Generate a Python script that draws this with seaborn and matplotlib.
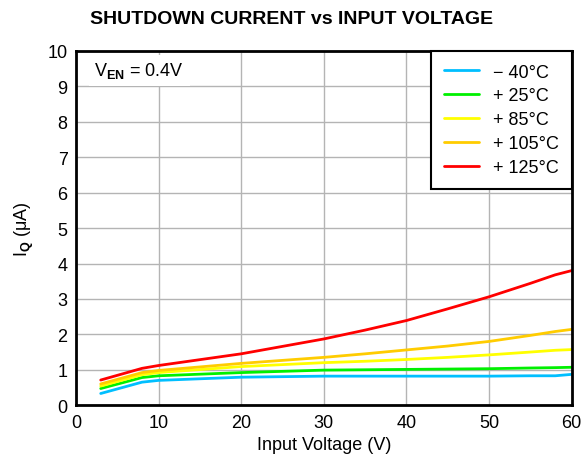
import pandas as pd
import numpy as np
import matplotlib
matplotlib.use('Agg')
import matplotlib.pyplot as plt
import seaborn as sns

# Data
vin = [3, 8, 10, 20, 30, 35, 40, 45, 50, 55, 58, 60]
iq_m40 = [0.33, 0.65, 0.70, 0.79, 0.82, 0.82, 0.82, 0.82, 0.82, 0.83, 0.83, 0.87]
iq_25 = [0.47, 0.78, 0.83, 0.92, 0.99, 1.00, 1.01, 1.02, 1.03, 1.05, 1.06, 1.07]
iq_85 = [0.54, 0.86, 0.92, 1.09, 1.20, 1.24, 1.29, 1.35, 1.42, 1.50, 1.55, 1.57]
iq_105 = [0.60, 0.92, 0.98, 1.18, 1.35, 1.45, 1.56, 1.67, 1.80, 1.97, 2.08, 2.14]
iq_125 = [0.71, 1.04, 1.12, 1.45, 1.87, 2.12, 2.39, 2.72, 3.06, 3.44, 3.68, 3.80]
labels = ['\u2212 40°C', '+ 25°C', '+ 85°C', '+ 105°C', '+ 125°C']
colors = ['#00BFFF', '#00F000', '#FFFF00', '#FFCC00', '#FF0000']

df = pd.DataFrame({
    'vin': vin * 5,
    'iq': iq_m40 + iq_25 + iq_85 + iq_105 + iq_125,
    'temp': [l for l in labels for _ in vin],
})

sns.set_style('white')
plt.rcParams['font.family'] = ['Liberation Sans', 'DejaVu Sans']
plt.rcParams['text.color'] = 'black'
plt.rcParams['axes.labelcolor'] = 'black'
plt.rcParams['xtick.color'] = 'black'
plt.rcParams['ytick.color'] = 'black'
plt.rcParams['mathtext.fontset'] = 'custom'
plt.rcParams['mathtext.rm'] = 'Liberation Sans'
plt.rcParams['mathtext.bf'] = 'Liberation Sans:bold'

fig = plt.figure(figsize=(5.84, 4.6), dpi=100)
ax = fig.add_axes([0.130, 0.117, 0.849, 0.770])

sns.lineplot(data=df, x='vin', y='iq', hue='temp', hue_order=labels,
             palette=colors, linewidth=2, ax=ax)

ax.set_xlim(0, 60)
ax.set_ylim(0, 10)
ax.set_xticks(range(0, 61, 10))
ax.set_yticks(range(0, 11))
ax.grid(True, color='#b4b4b4', linewidth=1)
ax.set_axisbelow(True)
for s in ax.spines.values():
    s.set_color('black')
    s.set_linewidth(2)
ax.tick_params(labelsize=13, length=0, pad=6)

ax.set_xlabel('Input Voltage (V)', fontsize=13, labelpad=4)
ax.set_ylabel(r'I$_{\mathbf{Q}}$' + ' (μA)', fontsize=13, labelpad=8)
fig.suptitle('SHUTDOWN CURRENT vs INPUT VOLTAGE', fontsize=14, fontweight='bold', y=0.975)

ax.text(0.037, 0.945, r'V$_{\mathbf{EN}}$ = 0.4V', transform=ax.transAxes,
        fontsize=13, va='center', ha='left',
        bbox=dict(facecolor='white', edgecolor='none', pad=4))

leg = ax.legend(loc='upper right', fontsize=13, frameon=True, fancybox=False,
                edgecolor='black', borderpad=0.7, handlelength=1.95,
                handletextpad=0.8, labelspacing=0.38, borderaxespad=0)
leg.get_frame().set_linewidth(1.5)
leg.get_frame().set_alpha(1)
for h in leg.get_lines():
    h.set_linewidth(2)

fig.savefig('out.png', dpi=100)
